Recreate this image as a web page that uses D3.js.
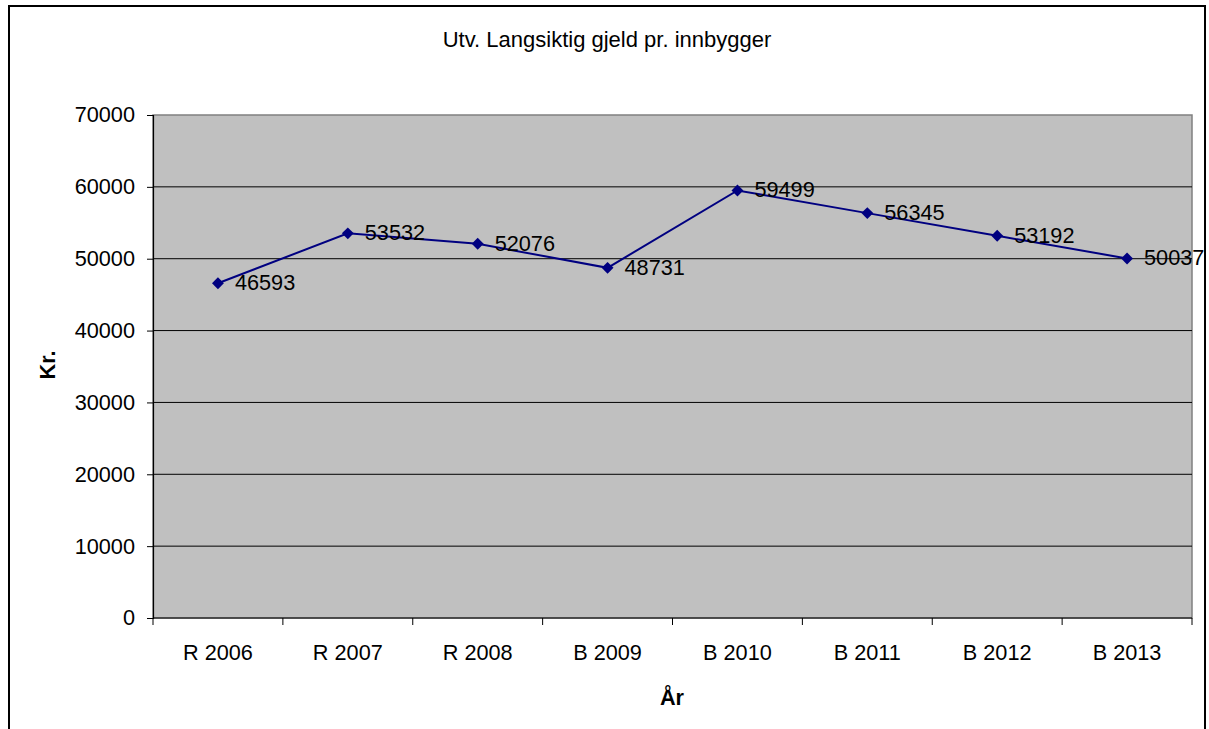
<!DOCTYPE html>
<html>
<head>
<meta charset="utf-8">
<script src="https://cdn.jsdelivr.net/npm/d3@7"></script>
<style>
  body { margin: 0; background: #fff; }
  svg { display: block; font-family: "Liberation Sans", Arial, sans-serif; }
</style>
</head>
<body>
<div id="chart"></div>
<script>
// data
const categories = ["R 2006", "R 2007", "R 2008", "B 2009", "B 2010", "B 2011", "B 2012", "B 2013"];
const values = [46593, 53532, 52076, 48731, 59499, 56345, 53192, 50037];
const yTicks = [0, 10000, 20000, 30000, 40000, 50000, 60000, 70000];

const width = 1209, height = 729;
const plot = { left: 153, top: 115, right: 1192, bottom: 618 };
const fontSize = 21.7;

const svg = d3.select("#chart").append("svg")
    .attr("width", width)
    .attr("height", height);

// outer frame
svg.append("rect")
    .attr("x", 9).attr("y", 6)
    .attr("width", 1196).attr("height", 730)
    .attr("fill", "#fff")
    .attr("stroke", "#000")
    .attr("stroke-width", 2);

const x = d3.scaleBand()
    .domain(categories)
    .range([plot.left, plot.right]);

const y = d3.scaleLinear()
    .domain([0, 70000])
    .range([plot.bottom, plot.top]);

// plot background
svg.append("rect")
    .attr("x", plot.left).attr("y", plot.top)
    .attr("width", plot.right - plot.left)
    .attr("height", plot.bottom - plot.top)
    .attr("fill", "#c0c0c0")
    .attr("stroke", "#808080")
    .attr("stroke-width", 1.5);

// gridlines
svg.append("g")
    .selectAll("line")
    .data(yTicks.filter(t => t > 0 && t < 70000))
    .join("line")
    .attr("x1", plot.left).attr("x2", plot.right)
    .attr("y1", d => y(d)).attr("y2", d => y(d))
    .attr("stroke", "#000")
    .attr("stroke-width", 1);

// y axis
const yAxis = svg.append("g")
    .attr("transform", `translate(${plot.left},0)`)
    .call(d3.axisLeft(y).tickValues(yTicks).tickSize(6).tickPadding(12).tickFormat(d3.format("d")));
yAxis.select(".domain").attr("stroke", "#000").attr("stroke-width", 1.2);
yAxis.selectAll(".tick line").attr("stroke", "#000");
yAxis.selectAll("text")
    .style("font-size", fontSize + "px")
    .style("font-family", "Liberation Sans, Arial, sans-serif")
    .attr("fill", "#000");

// x axis: ticks on category boundaries
const xAxis = svg.append("g")
    .attr("transform", `translate(0,${plot.bottom})`);
xAxis.append("line")
    .attr("x1", plot.left).attr("x2", plot.right)
    .attr("stroke", "#000").attr("stroke-width", 1.2);
const boundaries = categories.map(c => x(c)).concat([plot.right]);
xAxis.selectAll(".tk")
    .data(boundaries)
    .join("line")
    .attr("class", "tk")
    .attr("x1", d => d).attr("x2", d => d)
    .attr("y1", 0).attr("y2", 7)
    .attr("stroke", "#000");
xAxis.selectAll(".lbl")
    .data(categories)
    .join("text")
    .attr("class", "lbl")
    .attr("x", d => x(d) + x.bandwidth() / 2)
    .attr("y", 42)
    .attr("text-anchor", "middle")
    .style("font-size", fontSize + "px")
    .text(d => d);

// line
const cx = d => x(d) + x.bandwidth() / 2;
const line = d3.line()
    .x((d, i) => cx(categories[i]))
    .y(d => y(d));

svg.append("path")
    .datum(values)
    .attr("d", line)
    .attr("fill", "none")
    .attr("stroke", "#000080")
    .attr("stroke-width", 2);

// diamond markers
svg.append("g")
    .selectAll("path")
    .data(values)
    .join("path")
    .attr("d", d3.symbol(d3.symbolDiamond2, 90))
    .attr("transform", (d, i) => `translate(${cx(categories[i])},${y(d)})`)
    .attr("fill", "#000080");

// value labels
svg.append("g")
    .selectAll("text")
    .data(values)
    .join("text")
    .attr("x", (d, i) => cx(categories[i]) + 17)
    .attr("y", d => y(d) + 7)
    .style("font-size", fontSize + "px")
    .text(d => d);

// title
svg.append("text")
    .attr("x", 607).attr("y", 47)
    .attr("text-anchor", "middle")
    .style("font-size", "22px")
    .text("Utv. Langsiktig gjeld pr. innbygger");

// axis titles
svg.append("text")
    .attr("x", 672).attr("y", 705)
    .attr("text-anchor", "middle")
    .style("font-size", fontSize + "px")
    .attr("font-weight", "bold")
    .text("År");

svg.append("text")
    .attr("transform", "translate(55,365) rotate(-90)")
    .attr("text-anchor", "middle")
    .style("font-size", fontSize + "px")
    .attr("font-weight", "bold")
    .text("Kr.");
</script>
</body>
</html>
